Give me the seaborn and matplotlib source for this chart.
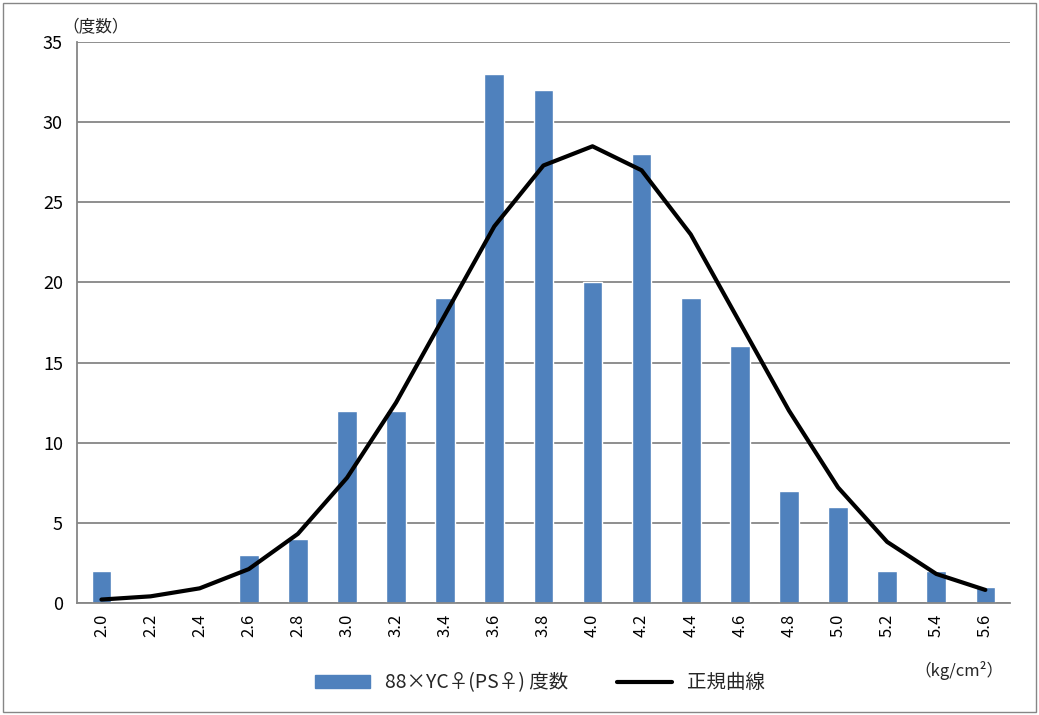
import numpy as np
import pandas as pd
import matplotlib
matplotlib.use('Agg')
import matplotlib.pyplot as plt
import seaborn as sns
from matplotlib.lines import Line2D
from matplotlib.patches import Patch

sns.set_style('white')
plt.rcParams['font.family'] = ['Noto Sans CJK JP', 'DejaVu Sans']

categories = ['2.0', '2.2', '2.4', '2.6', '2.8', '3.0', '3.2', '3.4', '3.6', '3.8',
              '4.0', '4.2', '4.4', '4.6', '4.8', '5.0', '5.2', '5.4', '5.6']
counts = [2, 0, 0, 3, 4, 12, 12, 19, 33, 32, 20, 28, 19, 16, 7, 6, 2, 2, 1]
normal_curve = [0.2, 0.4, 0.9, 2.1, 4.3, 7.8, 12.5, 18.0, 23.5, 27.3,
                28.5, 27.0, 23.0, 17.5, 12.0, 7.2, 3.8, 1.8, 0.8]

df = pd.DataFrame({'x': categories, 'count': counts, 'curve': normal_curve})

fig = plt.figure(figsize=(10.39, 7.15), dpi=100)
ax = fig.add_axes([0.074, 0.157, 0.898, 0.784])

sns.barplot(data=df, x='x', y='count', color='#4F81BD', saturation=1, width=0.4, ax=ax)
ax.plot(np.arange(len(categories)), df['curve'], color='black', lw=3,
        solid_capstyle='round', solid_joinstyle='round')

ax.set_xlim(-0.5, len(categories) - 0.5)
ax.set_ylim(0, 35)
ax.set_yticks(range(0, 36, 5))
ax.yaxis.grid(True, color='#868686', lw=1.3)
ax.set_axisbelow(True)
for s in ['top', 'right']:
    ax.spines[s].set_visible(False)
for s in ['bottom', 'left']:
    ax.spines[s].set_color('#868686')
    ax.spines[s].set_linewidth(1.3)
ax.tick_params(axis='y', labelsize=13, length=0, pad=10, labelcolor='black')
ax.tick_params(axis='x', labelsize=12, rotation=90, length=0, pad=8, labelcolor='black')
ax.set_xticks(np.arange(-0.5, len(categories)), minor=True)
ax.tick_params(axis='x', which='minor', length=6, color='#868686', width=1.3)
ax.set_xlabel('')
ax.set_ylabel('')

fig.text(0.06, 0.955, '（度数）', fontsize=12)
fig.text(0.88, 0.055, '（kg/cm²）', fontsize=12)

handles = [Patch(color='#4F81BD'), Line2D([], [], color='black', lw=3)]
fig.legend(handles, ['88×YC♀(PS♀) 度数', '正規曲線'], loc='center', bbox_to_anchor=(0.52, 0.045),
           ncol=2, frameon=False, fontsize=14, handlelength=2.8, columnspacing=2.5)

fig.add_artist(plt.Rectangle((0.003, 0.004), 0.994, 0.992, transform=fig.transFigure,
                             fill=False, edgecolor='#868686', lw=1))
fig.savefig('out.png', dpi=100)
